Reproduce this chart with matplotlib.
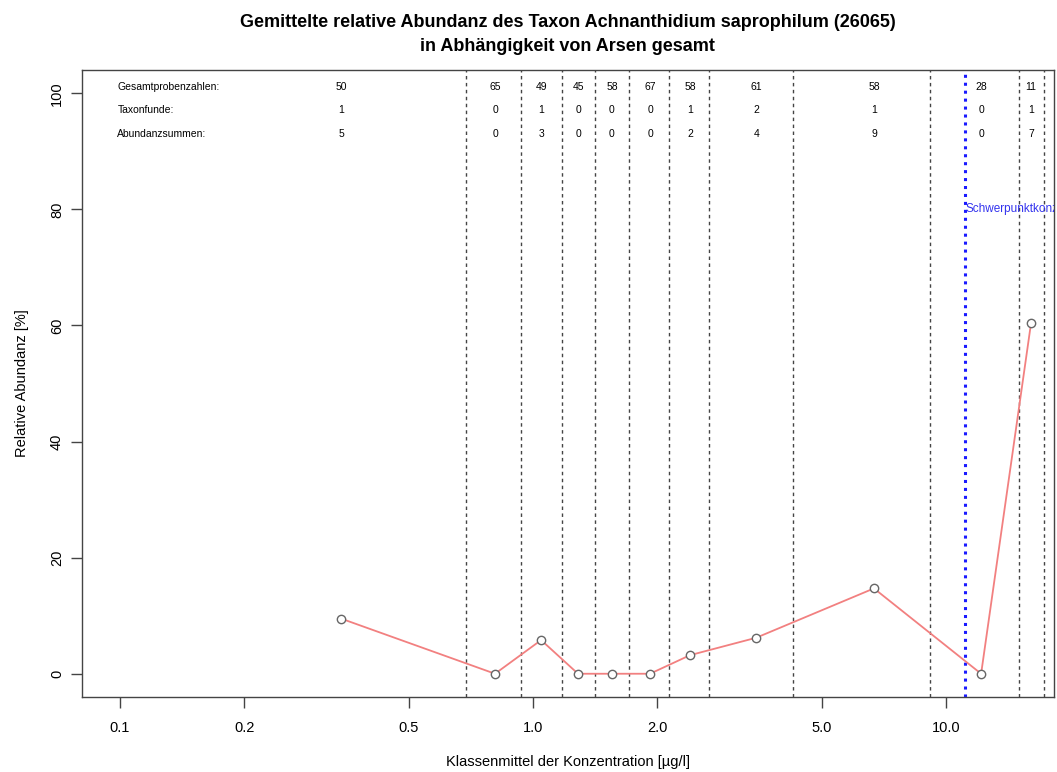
import matplotlib
matplotlib.use("Agg")
import matplotlib.pyplot as plt
from matplotlib.ticker import FixedLocator, NullLocator, FixedFormatter

plt.rcParams['font.family'] = ['Liberation Sans', 'DejaVu Sans']

# Klassenmittel (µg/l) und gemittelte relative Abundanz (%)
klassenmittel = [0.343, 0.809, 1.046, 1.285, 1.553, 1.92, 2.40, 3.47, 6.69, 12.16, 16.07]
abundanz = [9.5, 0.0, 5.8, 0.0, 0.0, 0.0, 3.2, 6.2, 14.7, 0.0, 60.5]

# Klassengrenzen (gestrichelte Linien)
grenzen = [0.688, 0.935, 1.176, 1.413, 1.708, 2.134, 2.668, 4.26, 9.14, 15.02, 17.27]
schwerpunkt = 11.12

gesamtproben = [50, 65, 49, 45, 58, 67, 58, 61, 58, 28, 11]
taxonfunde = [1, 0, 1, 0, 0, 0, 1, 2, 1, 0, 1]
abundanzsummen = [5, 0, 3, 0, 0, 0, 2, 4, 9, 0, 7]

xticks = [0.1, 0.2, 0.5, 1.0, 2.0, 5.0, 10.0]
xticklabels = ["0.1", "0.2", "0.5", "1.0", "2.0", "5.0", "10.0"]

fig = plt.figure(figsize=(10.57, 7.72), dpi=100)
ax = fig.add_axes([0.0776, 0.0972, 0.9196, 0.8121])

ax.set_xscale('log')
ax.set_xlim(0.0809, 18.26)
ax.set_ylim(-4, 104)

for g in grenzen:
    ax.axvline(g, color='#444444', linestyle=(0, (2.5, 2.5)), linewidth=1.0, zorder=1)
ax.axvline(schwerpunkt, color='#1a1aff', linestyle=(0, (1, 1.6)), linewidth=2.2, zorder=2)
ax.text(schwerpunkt, 80, "Schwerpunktkonzentration", color='#3333ee', fontsize=8.5,
        ha='left', va='center', clip_on=True)

ax.plot(klassenmittel, abundanz, color='#f28080', linewidth=1.3, zorder=3)
ax.plot(klassenmittel, abundanz, linestyle='none', marker='o', markersize=6,
        markerfacecolor='white', markeredgecolor='#666666', markeredgewidth=1.0, zorder=4)

# Tabelle oben
zeilen = [("Gesamtprobenzahlen:", gesamtproben, 101.0),
          ("Taxonfunde:", taxonfunde, 97.1),
          ("Abundanzsummen:", abundanzsummen, 92.9)]
for name, werte, y in zeilen:
    ax.text(0.0985, y, name, fontsize=7.5, ha='left', va='center')
    for xm, w in zip(klassenmittel, werte):
        ax.text(xm, y, str(w), fontsize=7.5, ha='center', va='center')

ax.xaxis.set_major_locator(FixedLocator(xticks))
ax.xaxis.set_major_formatter(FixedFormatter(xticklabels))
ax.xaxis.set_minor_locator(NullLocator())
ax.set_yticks([0, 20, 40, 60, 80, 100])
ax.set_yticklabels(["0", "20", "40", "60", "80", "100"], rotation=90, va='center')
ax.tick_params(axis='both', labelsize=10.5, length=8, width=1, color='#444444')
ax.tick_params(axis='x', pad=9)
ax.tick_params(axis='y', pad=5)

for s in ax.spines.values():
    s.set_color('#444444')
    s.set_linewidth(1.0)

ax.set_xlabel("Klassenmittel der Konzentration [µg/l]", fontsize=10.5, labelpad=15)
ax.set_ylabel("Relative Abundanz [%]", fontsize=10.5, labelpad=15)

fig.suptitle("Gemittelte relative Abundanz des Taxon Achnanthidium saprophilum (26065)\n"
             "in Abhängigkeit von Arsen gesamt", fontsize=13, fontweight='bold',
             x=0.537, y=0.982, va='top', linespacing=1.55)

fig.savefig("out.png", dpi=100)
